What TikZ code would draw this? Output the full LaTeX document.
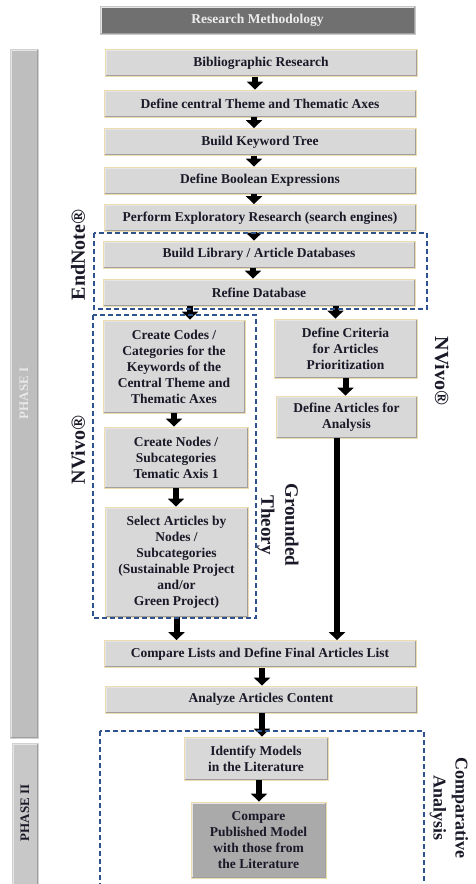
\documentclass[tikz,border=0pt]{standalone}
\usepackage{fontspec}
\setmainfont{Liberation Serif}
\usetikzlibrary{arrows.meta,calc}
\definecolor{boxfill}{RGB}{216,216,216}
\definecolor{boxedge}{RGB}{236,220,176}
\definecolor{dashblue}{RGB}{47,82,143}
\definecolor{txt}{RGB}{25,25,40}
\definecolor{titlefill}{RGB}{112,112,112}
\definecolor{titleedge}{RGB}{200,200,200}
\definecolor{titletext}{RGB}{236,236,236}
\definecolor{phasefill}{RGB}{190,190,190}
\definecolor{phasefilltwo}{RGB}{200,200,200}
\definecolor{phaseedge}{RGB}{210,210,210}
\definecolor{phasetext}{RGB}{232,232,232}
\definecolor{darkbox}{RGB}{170,170,170}
\newcommand\bxfont{\fontsize{13.5}{16}\selectfont\bfseries}
\newcommand\lblfont{\fontsize{20}{24}\selectfont\bfseries}
\newcommand\gtfont{\fontsize{19}{24}\selectfont\bfseries}
\newcommand\cafont{\fontsize{18}{22}\selectfont\bfseries}
\tikzset{
  bevel/.style={path picture={
     \draw[white!80!gray, line width=3pt] (path picture bounding box.south west) -- (path picture bounding box.north west) -- (path picture bounding box.north east);
     \draw[gray!75, line width=3pt] (path picture bounding box.north east) -- (path picture bounding box.south east) -- (path picture bounding box.south west);}},
  box/.style={draw=boxedge, line width=0.8pt, fill=boxfill, text=txt, font=\bxfont, align=center, inner sep=0pt, bevel},
  wide/.style={box, minimum width=312pt, minimum height=27pt},
  blk/.style={draw=black, line width=6pt, -{Triangle[width=16pt,length=8pt]}},
  dbox/.style={draw=dashblue, line width=1.6pt, dash pattern=on 5pt off 3pt},
  phase/.style={fill=phasefill, draw=phaseedge, line width=0.8pt, bevel},
}
\begin{document}
\begin{tikzpicture}[x=1pt,y=-1pt]
\useasboundingbox (0,0) rectangle (475,884);
\clip (0,0) rectangle (475,884);
\fill[white] (0,0) rectangle (475,884);

% title
\node[box, draw=titleedge, fill=titlefill, text=titletext, minimum width=315pt, minimum height=28pt] (title) at (257.5,20) {Research Methodology};

% phase bars
\node[phase, minimum width=28pt, minimum height=689pt, inner sep=0pt] (ph1) at (24,393.5) {};
\node[rotate=90, text=phasetext, font=\fontsize{13}{15}\selectfont\bfseries] (ph1t) at (ph1) {PHASE I};
\node[phase, fill=phasefilltwo, minimum width=26pt, minimum height=160pt, inner sep=0pt] (ph2) at (25,823) {};
\node[rotate=90, text=txt, font=\fontsize{13}{15}\selectfont\bfseries] (ph2t) at (25,813) {PHASE II};

% main column
\node[wide] (b1) at (261,63) {Bibliographic Research};
\node[wide] (b2) at (260,103.5) {Define central Theme and Thematic Axes};
\node[wide] (b3) at (260,142) {Build Keyword Tree};
\node[wide] (b4) at (260,180.5) {Define Boolean Expressions};
\node[wide] (b5) at (260,218) {Perform Exploratory Research (search engines)};
\node[wide] (b6) at (259,254.5) {Build Library / Article Databases};
\node[wide] (b7) at (259,292.5) {Refine Database};

% left column
\node[box, minimum width=142pt, minimum height=93pt] (cc) at (174,366.5) {Create Codes /\\Categories for the\\Keywords of the\\Central Theme and\\Thematic Axes};
\node[box, minimum width=144pt, minimum height=61pt] (cn) at (176,457.5) {Create Nodes /\\Subcategories\\Tematic Axis 1};
\node[box, minimum width=143pt, minimum height=110pt] (sa) at (176.5,562) {Select Articles by\\Nodes /\\Subcategories\\(Sustainable Project\\and/or\\Green Project)};

% right column
\node[box, minimum width=143pt, minimum height=59pt] (dc) at (345.5,348.5) {Define Criteria\\for Articles\\Prioritization};
\node[box, minimum width=141pt, minimum height=42pt] (da) at (346.5,417) {Define Articles for\\Analysis};

\node[wide] (cl) at (260,654) {Compare Lists and Define Final Articles List};
\node[wide] (an) at (261,699.5) {Analyze Articles Content};

\node[box, minimum width=144pt, minimum height=43pt] (im) at (256,758.5) {Identify Models\\in the Literature};
\node[box, fill=darkbox, minimum width=135pt, minimum height=76pt] (cp) at (258.5,840) {Compare\\Published Model\\with those from\\the Literature};

% arrows
\foreach \a/\b in {b1/b2,b2/b3,b3/b4,b4/b5,b5/b6,b6/b7}{
  \draw[blk] ([xshift=-6pt]\a.south) -- ([xshift=-6pt]\a.south |- \b.north);
}
\draw[blk] (b7.south -| cc.north) ++(16pt,0) coordinate (lA) -- (lA |- cc.north);
\draw[blk] (b7.south -| dc.north) ++(-10pt,0) coordinate (rA) -- (rA |- dc.north);
\draw[blk] (cc.south) -- (cc.south |- cn.north);
\draw[blk] (cn.south) -- (cn.south |- sa.north);
\draw[blk] (dc.south) -- (dc.south |- da.north);
\draw[blk] (sa.south) -- (sa.south |- cl.north);
\coordinate (longx) at (337,0);
\draw[blk] (da.south -| longx) -- (cl.north -| longx);
\draw[blk] ([xshift=2pt]cl.south) -- ([xshift=2pt]cl.south |- an.north);
\draw[blk] ([xshift=1pt]an.south) -- ([xshift=1pt]an.south |- im.north);
\draw[blk] ([xshift=3pt]im.south) -- ([xshift=3pt]im.south |- cp.north);

% dashed groups
\draw[dbox] (94,233) rectangle (427,309);
\draw[dbox] (93,315) rectangle (256,618);
\draw[dbox] (100,731) rectangle (424,900);

% labels
\node[rotate=90, text=txt, font=\lblfont] (en) at (78,255) {EndNote®};
\node[rotate=90, text=txt, font=\lblfont] (nvl) at (78,450) {NVivo®};
\node[rotate=-90, text=txt, font=\lblfont] (nvr) at (442,371) {NVivo®};
\node[rotate=-90, text=txt, font=\gtfont, align=center] (gt) at (278,525) {Grounded\\Theory};
\node[rotate=-90, text=txt, font=\cafont, align=center] (ca) at (449,808) {Comparative\\Analysis};
\end{tikzpicture}
\end{document}
